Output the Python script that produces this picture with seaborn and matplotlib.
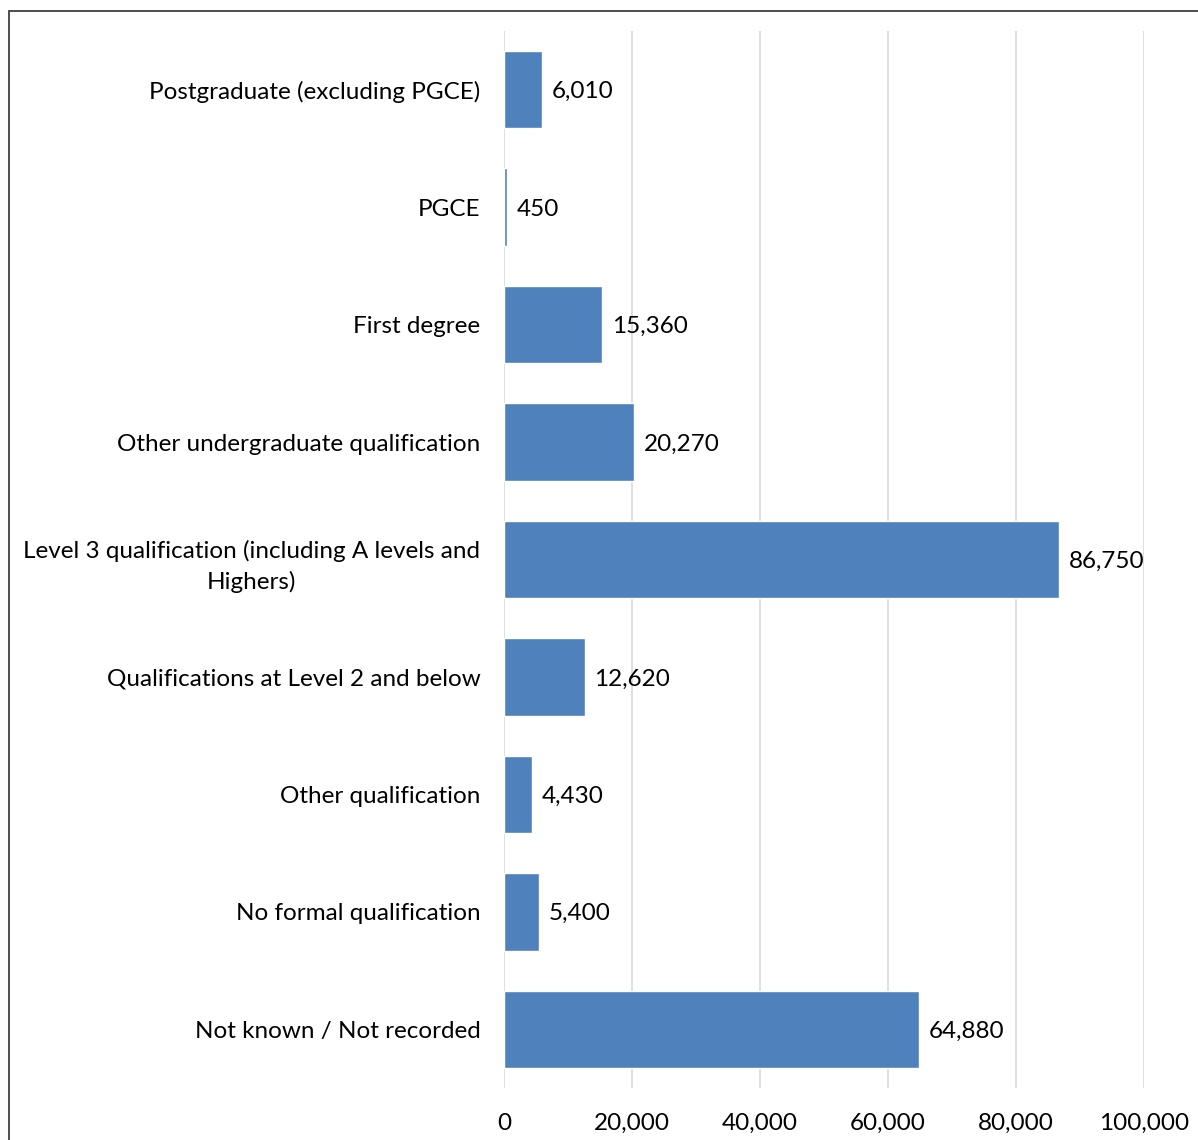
import matplotlib
matplotlib.use("Agg")
import matplotlib.pyplot as plt
import pandas as pd
import seaborn as sns
from matplotlib.patches import Rectangle

categories = [
    "Postgraduate (excluding PGCE)",
    "PGCE",
    "First degree",
    "Other undergraduate qualification",
    "Level 3 qualification (including A levels and\nHighers)",
    "Qualifications at Level 2 and below",
    "Other qualification",
    "No formal qualification",
    "Not known / Not recorded",
]
values = [6010, 450, 15360, 20270, 86750, 12620, 4430, 5400, 64880]
x_ticks = [0, 20000, 40000, 60000, 80000, 100000]

df = pd.DataFrame({"category": categories, "value": values})

sns.set_style("white")
plt.rcParams["font.family"] = ["Lato", "DejaVu Sans"]
plt.rcParams["text.color"] = "black"
plt.rcParams["xtick.color"] = "black"
plt.rcParams["ytick.color"] = "black"

W, H = 1198, 1140
fig = plt.figure(figsize=(W / 100, H / 100), dpi=100)

# outer chart border (cropped on the right/bottom)
fig.patches.append(
    Rectangle((9 / W, -0.1), 1.2, 1.1 - 11 / H, transform=fig.transFigure,
              fill=False, edgecolor="#404040", linewidth=1.3)
)

ax = fig.add_axes([504 / W, 1 - 1088 / H, 640 / W, (1088 - 31) / H])

sns.barplot(data=df, x="value", y="category", color="#4F81BD",
            width=0.66, saturation=1, ax=ax)

ax.set_xlim(0, 100000)
ax.set_xticks(x_ticks)
ax.set_xticklabels([f"{t:,}" for t in x_ticks], fontsize=17.5)
ax.tick_params(axis="x", length=0, pad=18)
ax.tick_params(axis="y", length=0, pad=17, labelsize=17.5)
ax.set_xlabel("")
ax.set_ylabel("")
ax.grid(axis="x", color="#D9D9D9", linewidth=1.2)
ax.set_axisbelow(True)
for s in ax.spines.values():
    s.set_visible(False)

for lbl in ax.get_yticklabels():
    lbl.set_horizontalalignment("right")
    lbl.set_multialignment("center")
    lbl.set_linespacing(1.5)

for i, v in enumerate(values):
    ax.annotate(f"{v:,}", (v, i), xytext=(7, 0), textcoords="offset points",
                va="center_baseline", ha="left", fontsize=17.5)

fig.savefig("out.png", dpi=100)
